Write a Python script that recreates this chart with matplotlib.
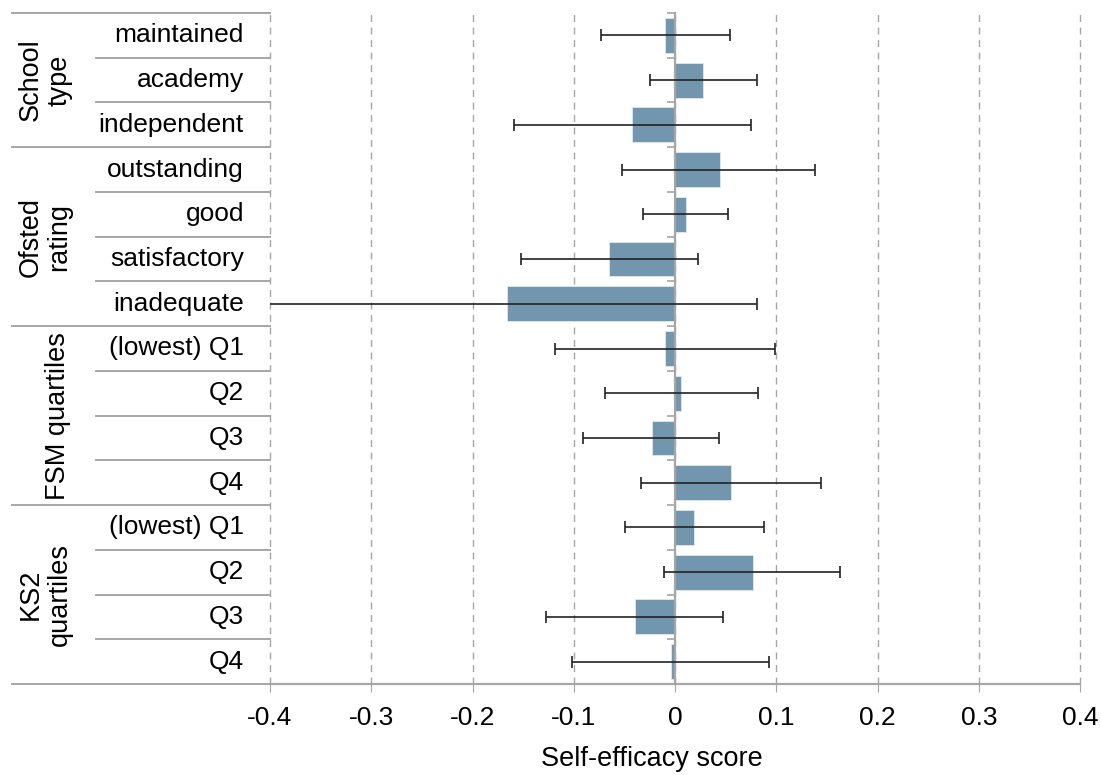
import matplotlib.pyplot as plt
import matplotlib.transforms as mtransforms
import numpy as np

plt.rcParams['font.family'] = ['Liberation Sans', 'DejaVu Sans']

groups = ['School\ntype', 'Ofsted\nrating', 'FSM quartiles', 'KS2\nquartiles']
group_sizes = [3, 4, 4, 4]
labels = ['maintained', 'academy', 'independent',
          'outstanding', 'good', 'satisfactory', 'inadequate',
          '(lowest) Q1', 'Q2', 'Q3', 'Q4',
          '(lowest) Q1', 'Q2', 'Q3', 'Q4']
score = [-0.010, 0.028, -0.042,
         0.044, 0.011, -0.065, -0.166,
         -0.010, 0.006, -0.023, 0.055,
         0.019, 0.077, -0.040, -0.004]
ci_low = [-0.073, -0.025, -0.159,
          -0.052, -0.032, -0.152, -0.420,
          -0.119, -0.069, -0.091, -0.034,
          -0.049, -0.011, -0.127, -0.102]
ci_high = [0.054, 0.081, 0.075,
           0.138, 0.052, 0.023, 0.081,
           0.099, 0.082, 0.043, 0.144,
           0.088, 0.163, 0.047, 0.093]

W, H = 1101, 775
fig = plt.figure(figsize=(W / 100, H / 100), dpi=100)
ax = fig.add_axes([270 / W, (H - 684) / H, 810 / W, 671 / H])

grey = '#a6a6a6'
y = np.arange(len(labels))
score = np.array(score)
err = [score - np.array(ci_low), np.array(ci_high) - score]

ax.barh(y, score, height=0.78, color='#7296ae', edgecolor='#dfe8ee', linewidth=0.6, zorder=2)
ax.errorbar(score, y, xerr=err, fmt='none', ecolor='#222222', elinewidth=1.2,
            capsize=4, capthick=1.2, zorder=4)

ax.set_xlim(-0.4, 0.4)
ax.set_ylim(len(labels) - 0.5, -0.5)

xt = np.round(np.arange(-0.4, 0.41, 0.1), 1)
ax.set_xticks(xt)
ax.set_xticklabels(['0' if v == 0 else '%g' % v for v in xt], fontsize=19)
ax.tick_params(axis='x', length=6, color=grey, pad=10)
for v in xt:
    ax.axvline(v, color=grey, linestyle=(0, (5, 4)), linewidth=1, zorder=1, clip_on=False)

# y axis drawn at zero with ticks at the row boundaries
ax.spines['left'].set_position(('data', 0))
ax.spines['left'].set_color(grey)
ax.spines['left'].set_linewidth(1.6)
ax.spines['left'].set_zorder(3)
ax.set_yticks(np.arange(-0.5, len(labels)))
ax.set_yticklabels([])
ax.tick_params(axis='y', length=6, color=grey, width=1.2)
ax.spines['bottom'].set_color(grey)
ax.spines['bottom'].set_linewidth(1.6)
ax.spines['top'].set_visible(False)
ax.spines['right'].set_visible(False)

# label table on the left
trans = mtransforms.blended_transform_factory(fig.transFigure, ax.transData)
for i, lab in enumerate(labels):
    ax.text(244 / W, i, lab, transform=trans, ha='right', va='center',
            fontsize=19, clip_on=False)

bounds = np.cumsum([0] + group_sizes)
for b in range(len(labels) + 1):
    x0 = 12 if b in bounds else 96
    ax.plot([x0 / W, 270 / W], [b - 0.5, b - 0.5], color=grey, linewidth=1.4,
            transform=trans, clip_on=False)

group_x = [45, 45, 58, 45]
for g, name in enumerate(groups):
    mid = (bounds[g] + bounds[g + 1] - 1) / 2
    ax.text(group_x[g] / W, mid, name, transform=trans, rotation=90,
            ha='center', va='center', fontsize=19.5, linespacing=1.15,
            multialignment='center', clip_on=False)

fig.text(652 / W, (H - 759) / H, 'Self-efficacy score', ha='center', va='center',
         fontsize=19.5)

fig.savefig('out.png', dpi=100)
